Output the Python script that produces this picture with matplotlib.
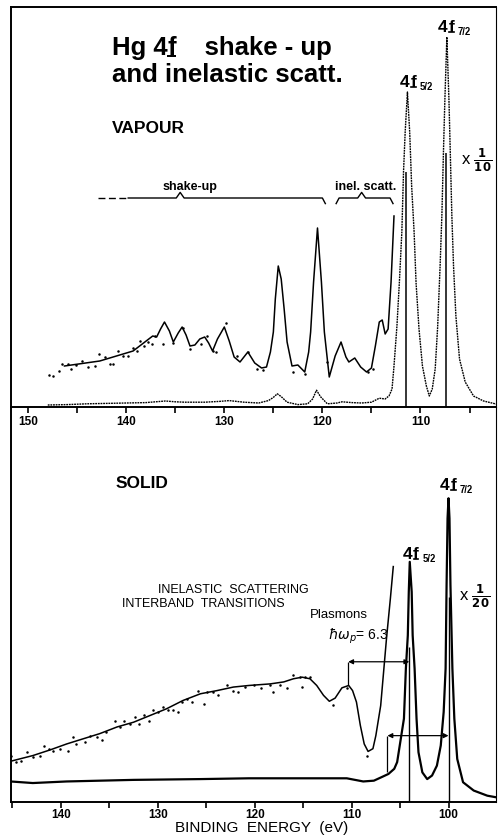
import numpy as np
import matplotlib.pyplot as plt
from matplotlib.lines import Line2D

plt.rcParams['font.family'] = ['Liberation Sans', 'DejaVu Sans']
plt.rcParams['mathtext.fontset'] = 'dejavusans'

# ---- VAPOUR panel (binding energy eV, intensity arb. units) ----
# shake-up / inelastic region, x10 scale: smooth fit through the data
vap_fit_e = [146.3, 142.7, 139.3, 137.3, 136.9, 136.5, 136.1, 135.6, 135.2, 134.7,
             134.3, 133.9, 133.5, 133.0, 132.5, 132.0, 131.6, 131.2, 130.7, 130.0,
             129.5, 129.0, 128.4, 127.6, 126.9, 126.2, 125.7, 125.3, 125.0, 124.8,
             124.5, 124.2, 123.9, 123.6, 123.1, 122.5, 121.8, 121.4, 121.2, 120.9,
             120.5, 120.1, 119.8, 119.3, 118.7, 118.1, 117.6, 117.3, 116.7, 116.1,
             115.5, 115.0, 114.6, 114.2, 113.9, 113.6, 113.3, 113.0, 112.7]
vap_fit_i = [10.25, 11.5, 14.0, 17.75, 17.5, 19.5, 21.25, 19.0, 16.25, 18.5,
             20.0, 18.0, 15.25, 15.5, 17.0, 17.5, 16.0, 14.0, 17.0, 20.0,
             16.5, 12.5, 11.25, 13.75, 11.0, 9.75, 10.0, 13.75, 18.75, 27.0,
             35.25, 32.0, 24.5, 16.25, 10.25, 10.5, 8.75, 13.75, 18.75, 31.25,
             44.75, 31.25, 18.75, 7.5, 12.75, 16.25, 12.5, 11.25, 12.25, 10.0,
             8.75, 9.75, 15.25, 21.25, 21.75, 18.25, 19.5, 31.25, 47.75]
# measured points (x10 scale)
vap_pts_e = [147.9, 147.5, 146.9, 146.5, 145.9, 145.6, 145.1, 144.5, 143.9, 143.2,
             142.8, 142.2, 141.7, 141.3, 140.8, 140.3, 139.8, 139.3, 138.9, 138.6,
             138.2, 137.8, 137.4, 137.1, 136.3, 135.2, 134.2, 133.5, 132.4, 131.8,
             131.2, 130.8, 129.8, 128.7, 127.6, 126.7, 126.1, 123.0, 121.8, 119.5,
             115.4, 114.8]
vap_pts_i = [8.1, 7.8, 9.1, 10.75, 10.75, 9.5, 10.5, 11.6, 9.9, 10.3,
             13.25, 12.4, 10.75, 10.75, 14.1, 12.8, 12.8, 14.7, 14.1, 16.6,
             15.3, 16.2, 15.75, 17.7, 15.75, 15.9, 19.7, 14.5, 15.75, 17.8,
             14.1, 13.8, 21.0, 12.8, 13.8, 9.5, 9.25, 8.75, 8.25, 11.25,
             8.75, 9.5]
# full spectrum, x1/10 scale
vap_main_e = [148.0, 146.0, 144.0, 142.0, 140.0, 138.0, 136.0, 135.0, 134.0, 132.0,
              130.5, 129.5, 128.0, 126.5, 125.5, 125.0, 124.6, 124.2, 123.6, 122.5,
              121.5, 121.0, 120.6, 120.2, 119.5, 118.5, 118.0, 117.0, 116.0, 115.0,
              114.2, 113.6, 113.2, 112.9, 112.7, 112.4, 112.15, 111.9, 111.73, 111.56,
              111.33, 111.1, 110.9, 110.65, 110.45, 110.15, 109.8, 109.4, 109.1, 108.8,
              108.5, 108.25, 108.0, 107.82, 107.65, 107.51, 107.31, 107.1, 106.97, 106.8,
              106.63, 106.39, 106.02, 105.44, 104.59, 103.57, 102.3]
vap_main_i = [0.5, 0.6, 0.8, 0.9, 1.0, 1.1, 1.5, 1.3, 1.2, 1.2,
              1.4, 1.6, 1.2, 1.0, 1.6, 2.4, 3.3, 2.6, 1.2, 0.6,
              0.8, 2.0, 4.2, 2.6, 0.8, 1.0, 1.3, 1.1, 1.0, 1.2,
              2.2, 2.0, 2.8, 4.5, 10.25, 20.25, 31.25, 43.75, 58.75, 68.75,
              78.75, 68.75, 55.25, 43.75, 31.0, 19.5, 10.25, 5.25, 2.75, 4.5,
              9.5, 20.0, 35.25, 47.75, 64.5, 77.0, 92.5, 77.0, 64.5, 47.75,
              35.25, 22.75, 12.0, 6.25, 2.75, 1.5, 0.75]
vap_peak_e = [111.46, 107.38]
vap_peak_h = [58.75, 63.5]

# ---- SOLID panel ----
sol_fit_e = [145.2, 144.9, 142.9, 141.1, 139.4, 137.7, 136.0, 134.2, 132.5, 130.8,
             129.1, 127.4, 125.6, 123.9, 122.2, 120.6, 118.4, 117.0, 116.0, 115.1,
             114.3, 113.6, 112.9, 112.3, 111.7, 111.0, 110.3, 109.9, 109.5, 109.1,
             108.7, 108.3, 107.8, 107.5, 107.0, 106.7, 106.4, 106.0, 105.7]
sol_fit_i = [10.3, 10.5, 11.75, 13.2, 14.7, 16.0, 17.3, 19.0, 20.2, 21.9,
             23.6, 25.7, 27.4, 28.2, 29.1, 29.5, 29.9, 30.4, 31.2, 31.6,
             31.2, 29.5, 27.0, 25.5, 26.3, 28.9, 29.5, 28.2, 25.3, 19.4,
             14.7, 12.8, 13.5, 16.8, 24.4, 32.9, 41.4, 51.5, 59.6]
sol_pts_e = [145.1, 144.6, 144.1, 143.5, 142.9, 142.2, 141.7, 141.2, 140.8, 140.1,
             139.3, 138.8, 138.4, 137.5, 137.0, 136.3, 135.8, 135.3, 134.4, 133.9,
             133.5, 132.9, 132.4, 131.9, 131.4, 130.9, 130.5, 130.0, 129.5, 128.9,
             128.4, 127.9, 127.5, 127.0, 126.5, 125.8, 125.2, 124.9, 124.3, 123.8,
             122.9, 122.2, 121.7, 121.0, 120.1, 119.4, 118.4, 118.1, 117.4, 116.7,
             116.0, 115.3, 115.1, 114.8, 114.3, 111.9, 110.5, 108.4]
sol_pts_i = [11.6, 10.2, 10.5, 12.6, 11.3, 11.6, 14.3, 13.3, 12.8, 13.3,
             13.0, 16.4, 14.7, 15.2, 16.8, 16.4, 15.8, 17.8, 20.4, 19.0,
             20.6, 19.8, 21.5, 19.8, 21.9, 20.6, 23.4, 22.8, 24.0, 23.4,
             23.2, 22.9, 25.3, 26.1, 25.3, 28.0, 24.9, 27.8, 27.8, 27.2,
             29.5, 28.2, 27.8, 29.1, 29.5, 28.9, 29.5, 27.8, 29.5, 28.9,
             32.2, 31.6, 29.1, 31.6, 31.6, 24.6, 28.9, 11.6]
# full spectrum, x1/20 scale
sol_main_e = [145.2, 142.9, 139.4, 132.5, 125.6, 120.6, 113.6, 110.5, 108.8, 107.7,
              106.9, 106.2, 105.6, 105.3, 104.6, 104.4, 104.2, 104.1, 104.0, 103.8,
              103.7, 103.5, 103.3, 103.1, 102.7, 102.2, 101.7, 101.2, 100.8, 100.5,
              100.3, 100.2, 100.1, 100.0, 99.9, 99.8, 99.6, 99.4, 99.1, 98.5,
              97.4, 96.0, 95.1]
sol_main_i = [5.2, 4.8, 5.2, 5.6, 5.8, 6.0, 6.0, 6.0, 5.2, 5.4,
              6.3, 7.1, 8.4, 10.1, 21.1, 33.8, 42.2, 53.2, 60.8, 53.2,
              42.2, 33.8, 21.1, 12.6, 7.5, 5.8, 6.7, 9.2, 14.3, 22.8,
              33.8, 54.9, 71.8, 76.9, 71.8, 54.9, 33.8, 21.1, 10.9, 5.0,
              2.9, 1.6, 1.2]
sol_peak_e = [104.05, 100.0]
sol_peak_h = [39.3, 52.0]

top_ticks = [150, 140, 130, 120, 110]
top_minor = [145, 135, 125, 115, 105]
bot_ticks = [140, 130, 120, 110, 100]
bot_minor = [145, 135, 125, 115, 105, 95]

NARROW = ['Liberation Sans Narrow', 'Liberation Sans', 'DejaVu Sans']
underlined = []

fig = plt.figure(figsize=(4.98, 8.37), dpi=100)
ax1 = fig.add_axes([10.5 / 498, 1 - 408 / 837, 485.5 / 498, 400 / 837])
ax2 = fig.add_axes([10.5 / 498, 1 - 803 / 837, 485.5 / 498, 395 / 837])
ax2.patch.set_visible(False)

for ax, ticks, minor in ((ax1, top_ticks, top_minor), (ax2, bot_ticks, bot_minor)):
    ax.set_ylim(0, 100)
    ax.set_yticks([])
    ax.set_xticks(ticks)
    ax.set_xticks(minor, minor=True)
    ax.tick_params(axis='x', which='both', direction='out', length=4, width=1.2,
                   labelsize=8.5, pad=2)
    for lab in ax.get_xticklabels():
        lab.set_fontweight('bold')
    for s in ax.spines.values():
        s.set_linewidth(1.4)
    ax.spines['right'].set_linewidth(0.8)
ax2.spines['top'].set_visible(False)
ax1.set_xlim(151.8, 102.3)
ax2.set_xlim(145.2, 95.1)
ax2.tick_params(axis='x', pad=0.5)


def label_4f(ax, x, y, sub, size=12.5):
    t = ax.text(x, y, "4", fontsize=size, fontweight="bold", va="baseline")
    f = ax.annotate("f", xy=(1, 0), xycoords=t, xytext=(0.8, 0), textcoords="offset points",
                    fontsize=size, fontweight="bold", va="bottom")
    ax.annotate(sub, xy=(1, 0), xycoords=f, xytext=(2.5, -1.5), textcoords="offset points",
                fontsize=size * 0.55, fontweight="bold", va="bottom")
    underlined.append(f)


# ---- top panel ----
ax1.plot(vap_main_e, vap_main_i, color='k', lw=1.0, ls=(0, (1.3, 0.6)))
ax1.plot(vap_fit_e, vap_fit_i, color='k', lw=1.1)
ax1.plot(vap_pts_e, vap_pts_i, 'o', color='k', ms=1.8, mew=0)
ax1.vlines(vap_peak_e, 0, vap_peak_h, color='k', lw=1.1)

TSIZE = 18.5
h = ax1.text(141.5, 88.25, "Hg 4", fontsize=TSIZE, fontweight='bold', family=NARROW,
             va='baseline')
hf = ax1.annotate("f", xy=(1, 0), xycoords=h, fontsize=TSIZE, fontweight='bold',
                  family=NARROW, va='bottom')
ax1.annotate("    shake - up", xy=(1, 0), xycoords=hf, fontsize=TSIZE, fontweight='bold',
             family=NARROW, va='bottom')
underlined.append(hf)
ax1.text(141.5, 81.6, "and inelastic scatt.", fontsize=TSIZE, fontweight='bold',
         family=NARROW, va='baseline')
ax1.text(141.5, 68.75, "VAPOUR", fontsize=12.5, fontweight='bold', va='baseline')

label_4f(ax1, 112.07, 80.3, "5/2")
label_4f(ax1, 108.2, 94.1, "7/2")
ax1.text(105.85, 62, r"x $\frac{\mathbf{1}}{\mathbf{10}}$", fontsize=12, va='center')

# brackets
by = 52.25
ax1.plot([142.9, 139.8], [by, by], color='k', lw=1.0, ls=(0, (5, 2.5)))
ax1.plot([139.8, 134.9, 134.5, 134.1, 120.0, 119.7], [by, by, by + 1.4, by, by, by - 1.4],
         color='k', lw=1.0)
ax1.plot([118.6, 118.3, 116.4, 116.0, 115.6, 113.1, 112.8],
         [by - 1.4, by, by, by + 1.4, by, by, by - 1.4], color='k', lw=1.0)
ax1.text(133.5, 55.3, "shake-up", fontsize=9, fontweight='bold', ha='center', va='center')
ax1.text(115.6, 55.3, "inel. scatt.", fontsize=9, fontweight='bold', ha='center', va='center')

# ---- bottom panel ----
ax2.plot(sol_main_e, sol_main_i, color='k', lw=1.6)
ax2.plot(sol_fit_e, sol_fit_i, color='k', lw=1.1)
ax2.plot(sol_pts_e, sol_pts_i, 'o', color='k', ms=1.8, mew=0)
ax2.vlines(sol_peak_e, 0, sol_peak_h, color='k', lw=1.0)

ax2.text(134.4, 79.7, "SOLID", fontsize=12.5, fontweight='bold', va='baseline')
label_4f(ax2, 100.9, 79.3, "7/2")
label_4f(ax2, 104.75, 61.7, "5/2")
ax2.text(98.96, 52.4, r"x $\frac{\mathbf{1}}{\mathbf{20}}$", fontsize=12, va='center')
ax2.text(122.2, 53.8, "INELASTIC  SCATTERING", fontsize=9, ha='center', va='center')
ax2.text(125.3, 50.3, "INTERBAND  TRANSITIONS", fontsize=9, ha='center', va='center')
ax2.text(114.3, 47.5, "Plasmons", fontsize=9.5, va='center')
ax2.text(112.4, 42.1, r"$\hbar\omega_p$= 6.3", fontsize=10, va='center')

arrow = dict(arrowstyle='<|-|>', color='k', lw=0.9, mutation_scale=7, shrinkA=0, shrinkB=0)
ax2.annotate('', xy=(104.05, 35.5), xytext=(110.35, 35.5), arrowprops=arrow)
ax2.vlines([110.35], 29.5, 35.5, color='k', lw=0.9)
ax2.annotate('', xy=(100.0, 16.8), xytext=(106.3, 16.8), arrowprops=arrow)
ax2.vlines([106.3], 7.6, 16.8, color='k', lw=0.9)

fig.text(262 / 498, 1 - 828 / 837, "BINDING  ENERGY  (eV)", fontsize=11, ha='center',
         va='center')

# underline the "f" characters
fig.canvas.draw()
inv = fig.transFigure.inverted()
for t in underlined:
    bb = t.get_window_extent()
    y0 = bb.y0 + bb.height * 0.12
    p0 = inv.transform((bb.x0 + 0.5, y0))
    p1 = inv.transform((bb.x1 - 0.5, y0))
    fig.add_artist(Line2D([p0[0], p1[0]], [p0[1], p1[1]], color='k',
                          lw=max(1.2, bb.height * 0.06), transform=fig.transFigure))

fig.savefig("out.png", dpi=100)
